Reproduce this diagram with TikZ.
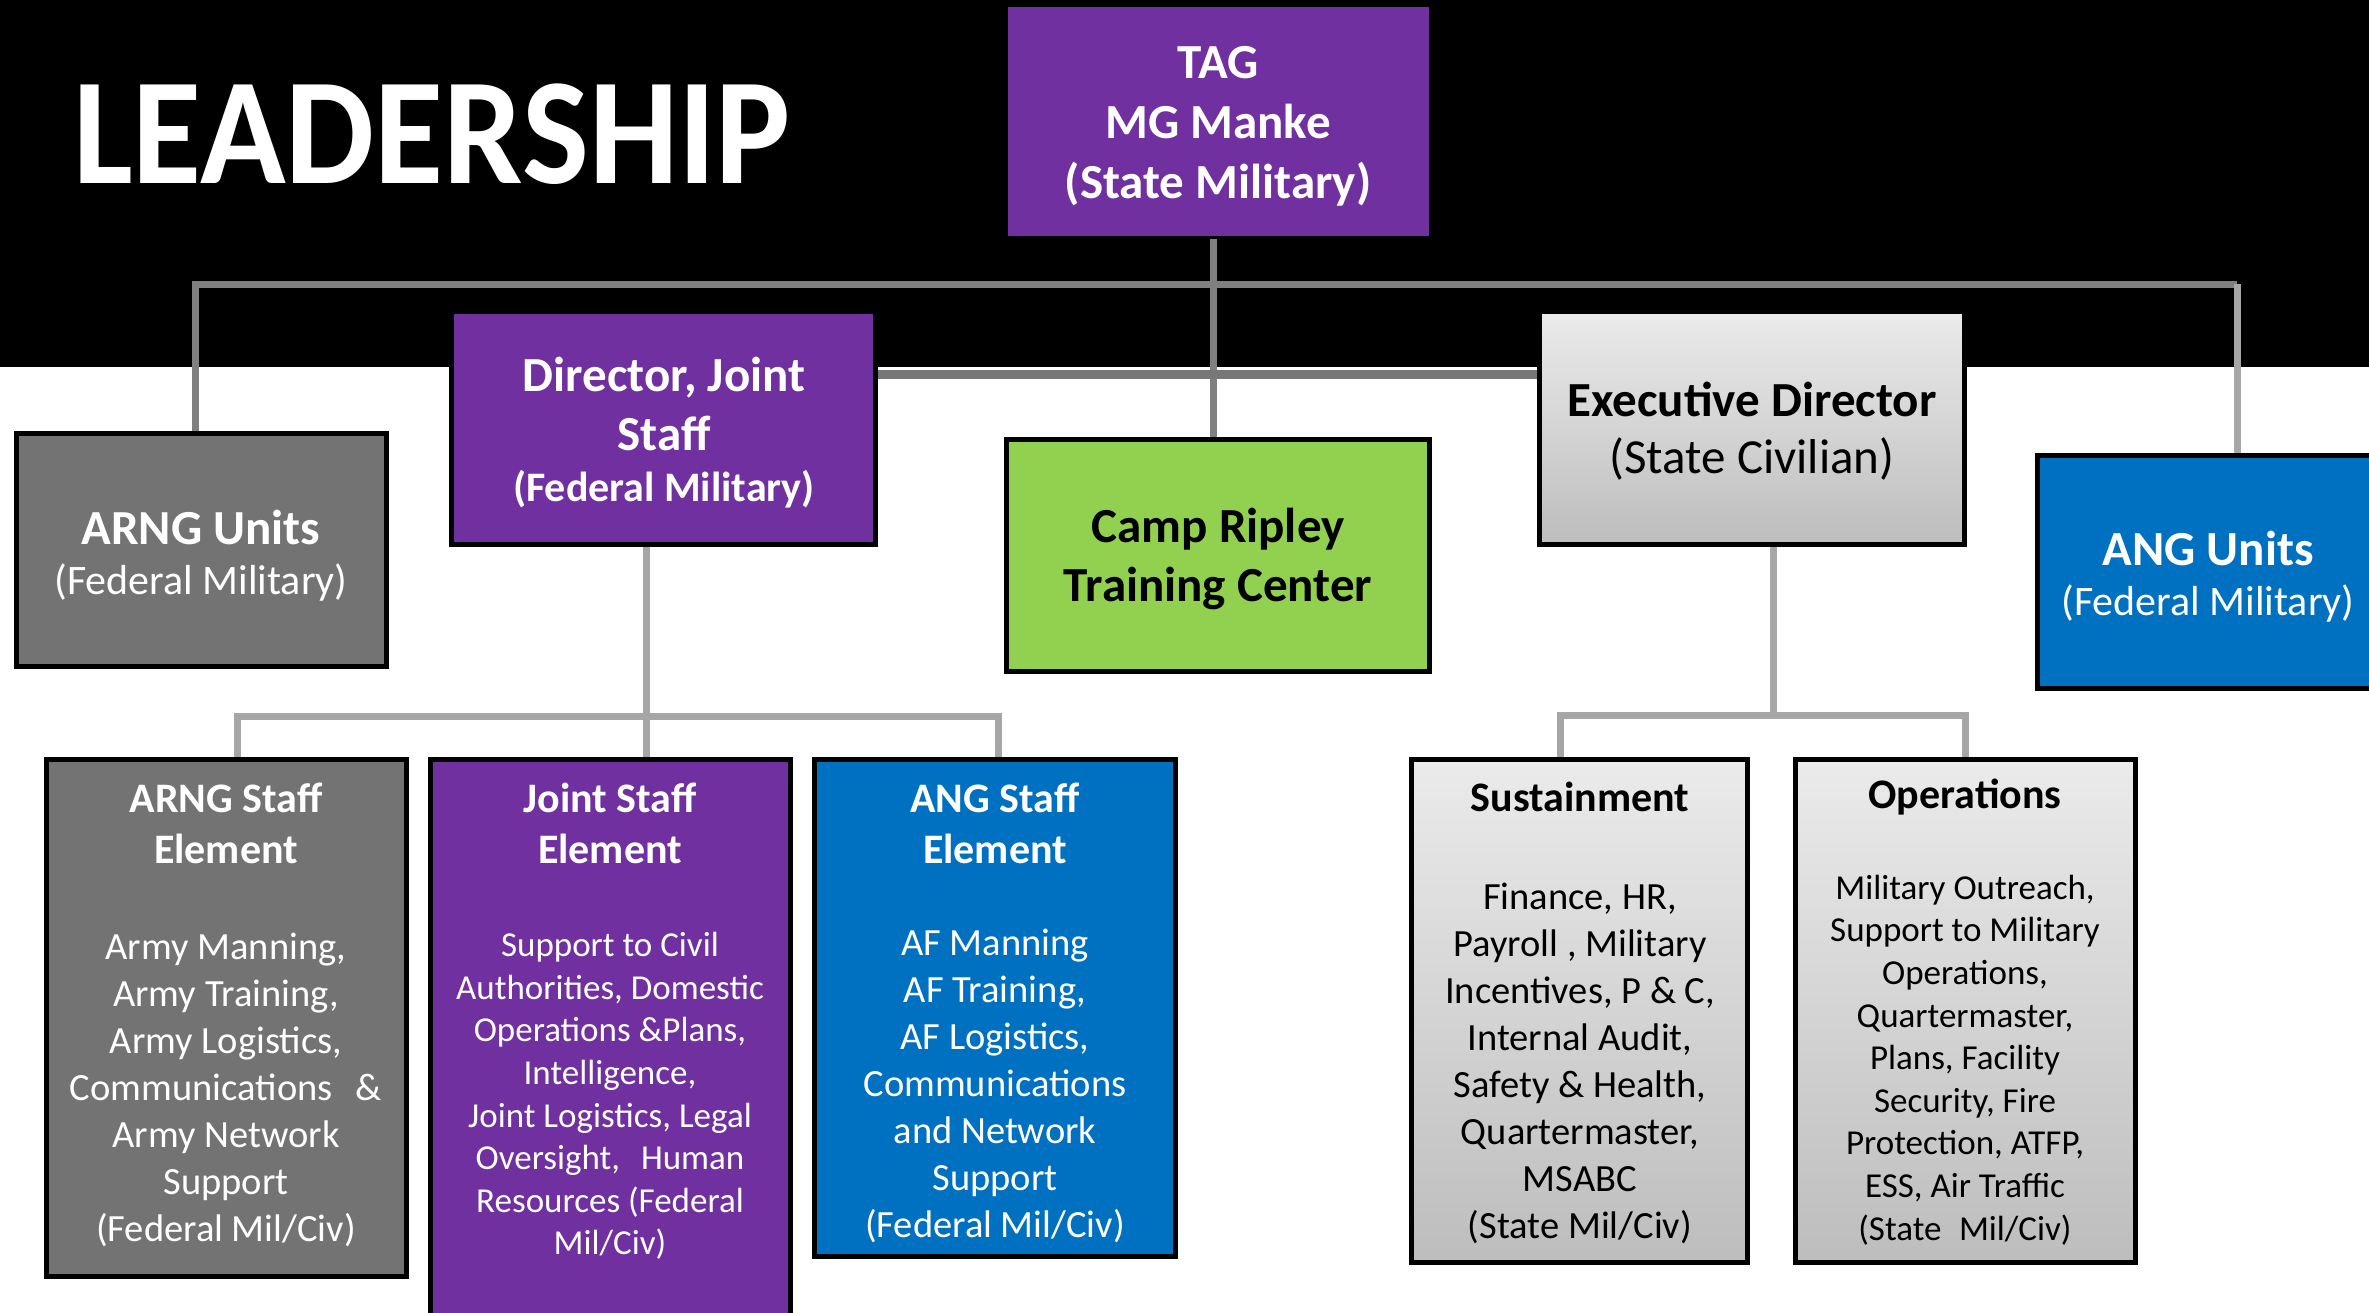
\documentclass[tikz,border=0pt]{standalone}
\usepackage{fontspec}
\usepackage{graphicx}
\setmainfont{Carlito}
\usetikzlibrary{backgrounds}
\definecolor{purp}{HTML}{7030A0}
\definecolor{grayunit}{HTML}{737373}
\definecolor{greenc}{HTML}{92D050}
\definecolor{bluec}{HTML}{0070C0}
\definecolor{gtop}{HTML}{EBEBEB}
\definecolor{gbot}{HTML}{BDBDBD}
\definecolor{linedark}{HTML}{808080}
\definecolor{linelight}{HTML}{A6A6A6}
\definecolor{linkc}{HTML}{777777}
\newcommand{\fsz}[2]{\fontsize{#1}{#2}\selectfont}
\begin{document}
\begin{tikzpicture}[x=1pt,y=-1pt,
  box/.style={draw=black,line width=5pt,inner sep=0pt,rectangle},
  gbox/.style={box,top color=gtop,bottom color=gbot},
  txt/.style={align=center,inner sep=0pt},
  wtitle/.style={txt,text=white,font=\bfseries\fsz{49}{59}},
  btitle/.style={txt,text=black,font=\bfseries\fsz{49}{59}},
  stitle/.style={txt,font=\bfseries\fsz{42}{51}},
  body/.style={txt,font=\fsz{38.5}{47}},
  sbody/.style={txt,font=\fsz{35}{42.6}},
  conndark/.style={draw=linedark,line width=7pt},
  connlight/.style={draw=linelight,line width=7pt},
]
\useasboundingbox (0,0) rectangle (2369,1312);

% title
\node[inner sep=0pt,anchor=base,text=white] (lead) at (432,183)
  {\scalebox{0.93}[1]{\fsz{152}{152}\bfseries LEADERSHIP}};

% top row boxes
\node[box,draw=none,fill=purp,minimum width=421pt,minimum height=229pt] (tag) at (1218.5,121.5) {};
\node[box,fill=purp,minimum width=424pt,minimum height=233pt] (dir) at (663.5,428) {};
\node[box,fill=grayunit,minimum width=370pt,minimum height=233pt] (arngu) at (201.5,550) {};
\node[box,fill=greenc,minimum width=423pt,minimum height=232pt] (camp) at (1218,555.5) {};
\node[gbox,minimum width=425pt,minimum height=233pt] (exec) at (1752,428) {};
\node[box,fill=bluec,minimum width=345pt,minimum height=233pt] (angu) at (2210,572) {};

% bottom row boxes
\node[box,fill=grayunit,minimum width=360pt,minimum height=517pt] (arngs) at (226.5,1018) {};
\node[box,fill=purp,minimum width=360pt,minimum height=568pt] (joint) at (610.5,1043.5) {};
\node[box,fill=bluec,minimum width=361pt,minimum height=497pt] (angs) at (995,1008) {};
\node[gbox,minimum width=336pt,minimum height=503pt] (sust) at (1579.5,1011) {};
\node[gbox,minimum width=340pt,minimum height=503pt] (ops) at (1965.5,1011) {};

% texts top row
\node[wtitle,font=\bfseries\fsz{49}{60}] (tagt) at (1218,126) {TAG\\MG Manke\\(State Military)};
\node[wtitle] (dirt) at (664,404) {Director, Joint\\Staff};
\node[txt,text=white,font=\bfseries\fsz{42}{50}] (dirs) at (664,489) {(Federal Military)};
\node[wtitle] (arngut) at (201,527) {ARNG Units};
\node[txt,text=white,font=\fsz{42}{50}] (arngus) at (201,583) {(Federal Military)};
\node[btitle] (campt) at (1218,559) {Camp Ripley\\Training Center};
\node[btitle] (exect) at (1752,399) {Executive Director};
\node[txt,font=\fsz{49}{59}] (execs) at (1752,459) {(State Civilian)};
\node[wtitle] (angut) at (2208,548) {ANG Units};
\node[txt,text=white,font=\fsz{42}{50}] (angus) at (2208,604) {(Federal Military)};

% texts bottom row
\node[stitle,text=white] (arngst) at (226,823) {ARNG Staff\\Element};
\node[body,text=white] (arngsb) at (226,1090) {Army Manning,\\Army Training,\\Army Logistics,\\Communications\hspace{0.6em}\&\\Army Network\\Support\\(Federal Mil/Civ)};
\node[stitle,text=white] (jointt) at (610,823) {Joint Staff\\Element};
\node[sbody,text=white] (jointb) at (610,1096) {Support to Civil\\Authorities, Domestic\\Operations \&Plans,\\Intelligence,\\Joint Logistics, Legal\\Oversight,\hspace{0.6em}Human\\Resources (Federal\\Mil/Civ)};
\node[stitle,text=white] (angst) at (995,823) {ANG Staff\\Element};
\node[body,text=white] (angsb) at (995,1086) {AF Manning\\AF Training,\\AF Logistics,\\Communications\\and Network\\Support\\(Federal Mil/Civ)};
\node[stitle] (sustt) at (1580,797) {Sustainment};
\node[body] (sustb) at (1580,1063) {Finance, HR,\\Payroll , Military\\Incentives, P \& C,\\Internal Audit,\\Safety \& Health,\\Quartermaster,\\MSABC\\(State Mil/Civ)};
\node[stitle] (opst) at (1965,797) {Operations};
\node[sbody] (opsb) at (1965,1060) {Military Outreach,\\Support to Military\\Operations,\\Quartermaster,\\Plans, Facility\\Security, Fire\\Protection, ATFP,\\ESS, Air Traffic\\(State\hspace{0.5em}Mil/Civ)};

\begin{pgfonlayer}{background}
\fill[black] (0,0) rectangle (2369,367);
\coordinate (barL) at (195,284);
\coordinate (barR) at (2237,284);
\coordinate (tagx) at (1213,0);
\draw[conndark] (arngu.north -| barL) -- (barL) -- (barR);
\draw[connlight] (barR) -- (angu.north -| barR);
\draw[conndark] (tag.south -| tagx) -- (camp.north -| tagx);
\coordinate (linky) at (0,374.5);
\draw[draw=linkc,line width=9pt] (dir.east |- linky) -- (exec.west |- linky);
% left lower tree
\coordinate (lj) at (646,716);
\coordinate (ljl) at (237,716);
\coordinate (ljr) at (998,716);
\draw[connlight] (dir.south -| lj) -- (lj) -- (joint.north -| lj);
\draw[connlight] (arngs.north -| ljl) -- (ljl) -- (ljr) -- (angs.north -| ljr);
% right lower tree
\coordinate (ej) at (1773,715);
\coordinate (ejl) at (1560,715);
\coordinate (ejr) at (1965,715);
\draw[connlight] (exec.south -| ej) -- (ej);
\draw[connlight] (sust.north -| ejl) -- (ejl) -- (ejr) -- (ops.north -| ejr);
\end{pgfonlayer}
\end{tikzpicture}
\end{document}
